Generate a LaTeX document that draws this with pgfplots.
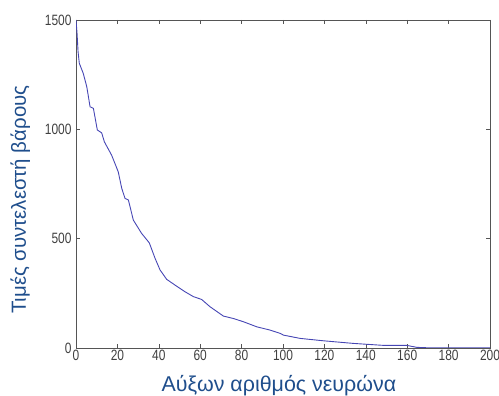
\documentclass[border=0pt]{standalone}
\usepackage{fontspec}
\setmainfont{Liberation Sans}
\newfontfamily\tickfont[FakeStretch=0.8]{Liberation Sans}
\usepackage{pgfplots}
\pgfplotsset{compat=1.18}
\definecolor{lblblue}{HTML}{1F4E8C}
\definecolor{lineblue}{RGB}{70,70,180}
\definecolor{axgray}{HTML}{555555}
\begin{document}
\begin{tikzpicture}
\begin{axis}[
  at={(76bp,48bp)}, anchor=south west,
  scale only axis, width=414bp, height=328bp,
  xmin=0, xmax=200, ymin=0, ymax=1500,
  xtick={0,20,...,200}, ytick={0,500,1000,1500},
  tick align=inside, major tick length=4bp,
  axis line style={axgray, line width=0.6pt},
  every tick/.style={axgray, line width=0.6pt},
  tick label style={font=\tickfont\fontsize{15}{15}\selectfont, text=black!75},
  /pgf/number format/assume math mode=true,
  scaled y ticks=false,
  /pgf/number format/1000 sep={},
  xticklabel style={yshift=1bp},
  yticklabel style={xshift=-1bp},
  xlabel={Αύξων αριθμός νευρώνα},
  ylabel={Τιμές συντελεστή βάρους},
  label style={text=lblblue},
  xlabel style={font=\fontsize{21.5}{23}\selectfont, at={(axis description cs:0.49,0)}, anchor=base, yshift=-43.5bp},
  ylabel style={font=\fontsize{20.5}{22}\selectfont, at={(axis description cs:0,0.452)}, anchor=base, yshift=50bp},
]
\addplot[lineblue, line width=0.9pt] coordinates {
(0,1500) (0.5,1440) (1,1355) (1.6,1302) (3.5,1256) (5.2,1195) (6.8,1103)
(8.4,1096) (10.3,997) (12.4,984) (13.7,943) (17.2,882) (20.4,806) (22.1,730)
(23.7,684) (25.3,677) (27.7,585) (31.7,524) (35.4,481) (38.2,410) (40.6,357)
(43.8,314) (47.8,288) (52.7,257) (56.7,235) (60.7,222) (64.7,189) (71.2,146)
(76,135) (80.9,120) (87.3,97) (93.7,82) (98.6,67) (100.2,59) (108.2,44)
(119.5,33) (134,21) (148.5,12) (159.8,12) (164.6,3) (170,1) (200,1)
};
\end{axis}
\pgfresetboundingbox
\useasboundingbox (0,0) rectangle (499bp,396bp);
\end{tikzpicture}
\end{document}
